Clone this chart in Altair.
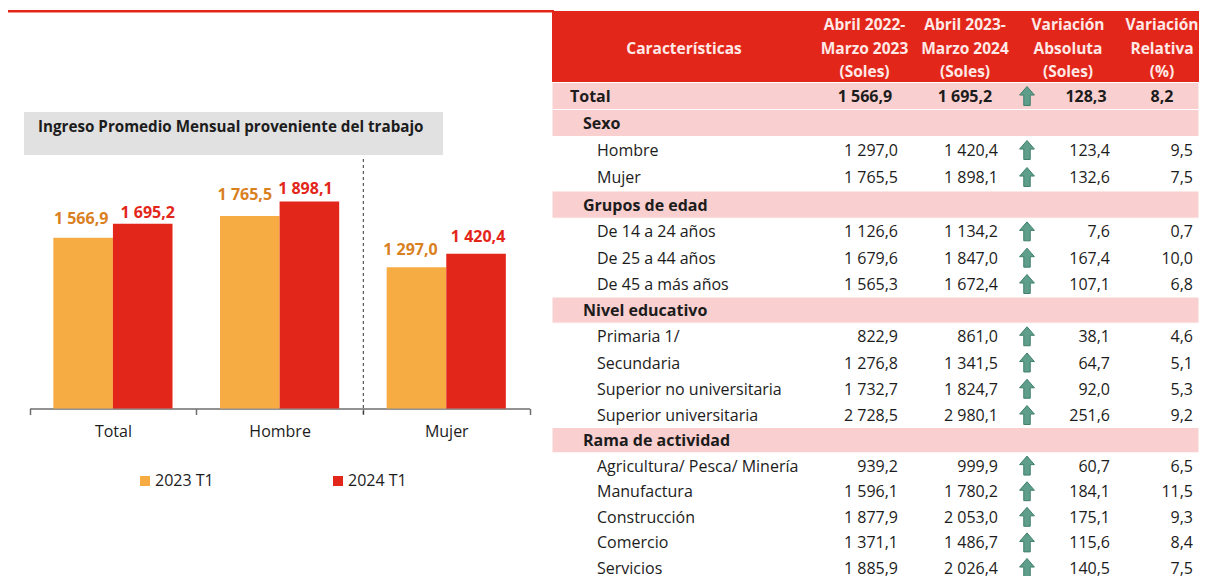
import altair as alt
import pandas as pd

# ---- data -------------------------------------------------------------
categories = ["Total", "Hombre", "Mujer"]
series = ["2023 T1", "2024 T1"]
values_2023 = [1566.9, 1765.5, 1297.0]
values_2024 = [1695.2, 1898.1, 1420.4]

row_labels = ["Total", "Sexo", "Hombre", "Mujer", "Grupos de edad", "De 14 a 24 años",
              "De 25 a 44 años", "De 45 a más años", "Nivel educativo", "Primaria 1/",
              "Secundaria", "Superior no universitaria", "Superior universitaria",
              "Rama de actividad", "Agricultura/ Pesca/ Minería", "Manufactura",
              "Construcción", "Comercio", "Servicios"]
row_levels = [0, 1, 2, 2, 1, 2, 2, 2, 1, 2, 2, 2, 2, 1, 2, 2, 2, 2, 2]
col_a = [1566.9, None, 1297.0, 1765.5, None, 1126.6, 1679.6, 1565.3, None, 822.9, 1276.8,
         1732.7, 2728.5, None, 939.2, 1596.1, 1877.9, 1371.1, 1885.9]
col_b = [1695.2, None, 1420.4, 1898.1, None, 1134.2, 1847.0, 1672.4, None, 861.0, 1341.5,
         1824.7, 2980.1, None, 999.9, 1780.2, 2053.0, 1486.7, 2026.4]
col_abs = [128.3, None, 123.4, 132.6, None, 7.6, 167.4, 107.1, None, 38.1, 64.7, 92.0,
           251.6, None, 60.7, 184.1, 175.1, 115.6, 140.5]
col_rel = [8.2, None, 9.5, 7.5, None, 0.7, 10.0, 6.8, None, 4.6, 5.1, 5.3, 9.2, None,
           6.5, 11.5, 9.3, 8.4, 7.5]
headers = ["Características", "Abril 2022-\nMarzo 2023\n(Soles)", "Abril 2023-\nMarzo 2024\n(Soles)",
           "Variación\nAbsoluta\n(Soles)", "Variación\nRelativa\n(%)"]
chart_title = "Ingreso Promedio Mensual proveniente del trabajo"
subtitle = "(Soles y variación porcentual)"

# ---- style ------------------------------------------------------------
FONT = "Open Sans"
RED = "#E3261A"
ORANGE = "#F6AB43"
ORANGE_TXT = "#D9801F"
PINK = "#F9CFCF"
GREY = "#E1E1E1"
INK = "#1C1C1C"
W, H = 1191, 568
TS = 16


def px(v):
    return v - 8  # page pixel -> chart pixel


def fmt(v):
    if v is None or pd.isna(v):
        return ""
    s = f"{v:,.1f}".replace(",", "#").replace(".", ",")
    return s.replace("#", " ")


one = pd.DataFrame([{"k": 1}])


def box(x0, x1, y0, y1, color):
    return alt.Chart(one).mark_rect(color=color).encode(
        x=alt.value(px(x0)), x2=alt.value(px(x1)), y=alt.value(px(y0)), y2=alt.value(px(y1)))


def note(text, x, y, size, color=INK, weight="normal", font=FONT):
    return alt.Chart(pd.DataFrame([{"t": text}])).mark_text(
        font=font, fontSize=size, color=color, fontWeight=weight, align="left", baseline="middle"
    ).encode(x=alt.value(px(x)), y=alt.value(px(y)), text="t:N")


# ---- bars -------------------------------------------------------------
bars_df = pd.DataFrame(
    [{"cat": c, "serie": series[0], "v": v, "txt": fmt(v)} for c, v in zip(categories, values_2023)]
    + [{"cat": c, "serie": series[1], "v": v, "txt": fmt(v)} for c, v in zip(categories, values_2024)]
)
x_scale = alt.Scale(type="band", domain=categories, range=[px(29.6), px(529.6)],
                    paddingInner=0.285, paddingOuter=0.1425)
x_enc = alt.X("cat:N", sort=categories, title=None, scale=x_scale, axis=None)
xo_enc = alt.XOffset("serie:N", sort=series, scale=alt.Scale(domain=series, paddingInner=0, paddingOuter=0))
y_enc = alt.Y("v:Q", axis=None, scale=alt.Scale(domain=[0, 2000], range=[px(408.5), px(190.5)], nice=False))

# category axis: its bands are the full step, so that the ticks fall between the groups
axis_layer = alt.Chart(pd.DataFrame({"cat": categories})).mark_point(opacity=0).encode(
    x=alt.X("cat:N", sort=categories, title=None,
            scale=alt.Scale(type="band", domain=categories, range=[px(29.6), px(529.6)],
                            paddingInner=0, paddingOuter=0),
            axis=alt.Axis(tickBand="extent", labelAngle=0, labelFont=FONT, labelFontSize=TS,
                          labelColor=INK, labelPadding=9, domainColor="#6E6E6E", tickColor="#6E6E6E",
                          tickSize=6, domainWidth=1.5, tickWidth=1.5, grid=False,
                          offset=-(H - px(408.5)))),
)

bars = alt.Chart(bars_df).mark_bar().encode(
    x=x_enc, xOffset=xo_enc, y=y_enc,
    color=alt.Color("serie:N", sort=series, scale=alt.Scale(domain=series, range=[ORANGE, RED]),
                    legend=alt.Legend(orient="none", legendX=px(137), legendY=px(473), direction="horizontal",
                                      title=None, symbolType="square", symbolSize=100, symbolStrokeWidth=0,
                                      labelFont=FONT, labelFontSize=TS, labelColor=INK, columnPadding=116,
                                      labelOffset=2)),
)

label_nudges = {
    ("Total", series[0]): (-2, -19), ("Total", series[1]): (5, -11),
    ("Hombre", series[0]): (-5, -21), ("Hombre", series[1]): (-4, -13),
    ("Mujer", series[0]): (-6, -17), ("Mujer", series[1]): (2, -17),
}
label_layers = []
for (c, s), (dx, dy) in label_nudges.items():
    label_layers.append(
        alt.Chart(bars_df[(bars_df.cat == c) & (bars_df.serie == s)]).mark_text(
            font=FONT, fontSize=16, fontWeight="bold", dx=dx, dy=dy, baseline="middle",
            color=ORANGE_TXT if s == series[0] else RED,
        ).encode(x=alt.X("cat:N", sort=categories, scale=x_scale, axis=None), xOffset=xo_enc, y=y_enc, text="txt:N")
    )
bar_group = alt.layer(bars, *label_layers)

divider = alt.Chart(one).mark_rule(color="#333333", strokeDash=[3, 3], strokeWidth=1).encode(
    x=alt.value(px(363.3)), y=alt.value(px(159)), y2=alt.value(px(414)))

# ---- table ------------------------------------------------------------
table = pd.DataFrame({
    "row": list(range(len(row_labels))), "label": row_labels, "level": row_levels,
    "a": [fmt(v) for v in col_a], "b": [fmt(v) for v in col_b],
    "abs": [fmt(v) for v in col_abs], "rel": [fmt(v) for v in col_rel],
    "has": [v is not None for v in col_a],
})
row_scale = alt.Scale(domain=[0, 3, 4, 7, 8, 12, 13, 18],
                      range=[px(96), px(177), px(205), px(284), px(310), px(415), px(440), px(568)],
                      nice=False, zero=False)
row_y = alt.Y("row:Q", axis=None, scale=row_scale)

pink = alt.Chart(table[table.level < 2]).transform_calculate(lo="datum.row - 0.5", hi="datum.row + 0.5").mark_rect(
    color=PINK, stroke="white", strokeWidth=1
).encode(x=alt.value(px(552)), x2=alt.value(W), y=alt.Y("lo:Q", axis=None, scale=row_scale), y2="hi:Q")

text_layers = []
for level, x0, weight in [(0, 570, "bold"), (1, 583, "bold"), (2, 597, "normal")]:
    text_layers.append(
        alt.Chart(table[table.level == level]).mark_text(
            font=FONT, fontSize=TS, color=INK, fontWeight=weight, align="left", baseline="middle", dy=1
        ).encode(x=alt.value(px(x0)), y=row_y, text="label:N"))
for field, right in [("a", 898), ("b", 998), ("abs", 1110), ("rel", 1193)]:
    text_layers.append(
        alt.Chart(table[(table.level == 2)]).mark_text(
            font=FONT, fontSize=TS, color=INK, align="right", baseline="middle", dy=1
        ).encode(x=alt.value(px(right)), y=row_y, text=f"{field}:N"))
for field, center in [("a", 865), ("b", 965), ("abs", 1086), ("rel", 1162)]:
    text_layers.append(
        alt.Chart(table[(table.level == 0)]).mark_text(
            font=FONT, fontSize=TS, color=INK, fontWeight="bold", align="center", baseline="middle", dy=1
        ).encode(x=alt.value(px(center)), y=row_y, text=f"{field}:N"))

ARROW = "M0,-1 L0.78,-0.1 L0.34,-0.1 L0.34,1 L-0.34,1 L-0.34,-0.1 L-0.78,-0.1 Z"
arrows = alt.Chart(table[table.has]).mark_point(
    shape=ARROW, size=360, filled=True, fill="#5F9E8B", stroke="#3F7F6C", strokeWidth=1, opacity=1
).encode(x=alt.value(px(1027)), y=row_y)

table_group = alt.layer(pink, *text_layers, arrows)

# ---- header -----------------------------------------------------------
head_layers = []
for text, cx in zip(headers, [684, 864.5, 965, 1068, 1162]):
    head_layers.append(
        alt.Chart(pd.DataFrame([{"t": text}])).mark_text(
            font=FONT, fontSize=15.5, fontWeight="bold", color="#FFE9E6", align="center", baseline="middle",
            lineBreak="\n", lineHeight=23.5,
        ).encode(x=alt.value(px(cx)), y=alt.value(px(48.5 if "\n" not in text else 25)), text="t:N"))

chart = alt.layer(
    box(1, 554, 10, 12.5, RED),
    box(552, W + 8, 11, 82, RED),
    box(24, 443, 112, 155, GREY),
    note(chart_title, 38, 126.5, 15.2, weight="bold"),
    note(subtitle, 449, -3, 19, color="#444444"),
    table_group,
    *head_layers,
    axis_layer,
    bar_group,
    divider,
).resolve_scale(x="independent", y="independent", color="independent").properties(
    width=W, height=H, padding=0, autosize=alt.AutoSizeParams(type="none")
).configure_view(stroke=None)

chart.save("out.html", embed_options={"renderer": "svg", "actions": False})
